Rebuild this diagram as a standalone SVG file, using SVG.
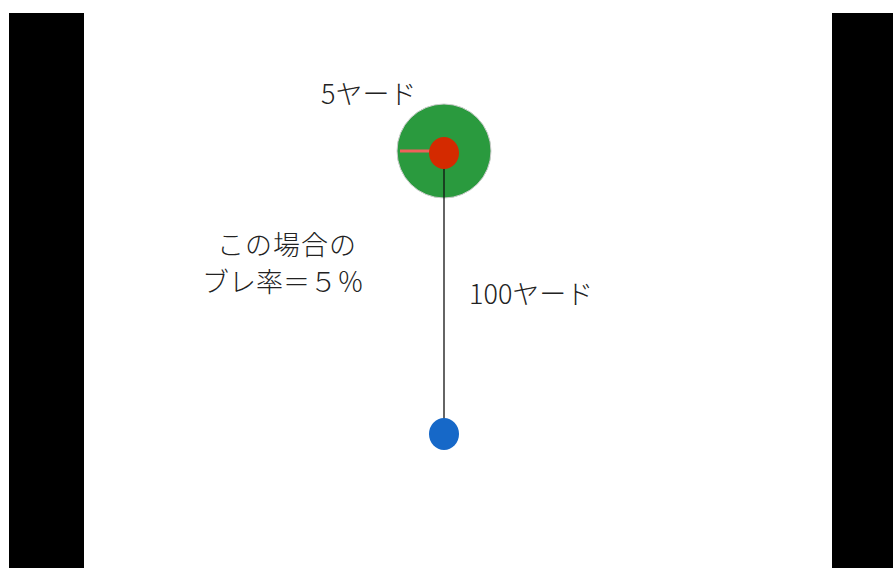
<svg xmlns="http://www.w3.org/2000/svg" width="893" height="568" viewBox="0 0 893 568">
<style>
.t{font-family:"Noto Sans CJK JP","Noto Sans",sans-serif;font-size:27px;fill:#222;font-weight:300;}
</style>
<rect width="893" height="568" fill="#fff"/>
<rect x="9" y="13" width="75" height="555" fill="#000"/>
<rect x="832" y="13" width="61" height="555" fill="#000"/>
<g id="green">
<circle cx="444" cy="151" r="47" fill="#2a9a3e" stroke="#ccc" stroke-width="1"/>
</g>
<g id="connectors">
<line x1="444" y1="160" x2="444" y2="425" stroke="#111" stroke-width="1.3"/>
<line x1="400" y1="151" x2="432" y2="151" stroke="#f0605a" stroke-width="3"/>
</g>
<g id="target">
<ellipse cx="444" cy="153" rx="15" ry="16" fill="#d42a00"/>
</g>
<g id="ball">
<ellipse cx="444" cy="434" rx="15" ry="16" fill="#1668c8"/>
</g>
<text class="t" x="321" y="104">5ヤード</text>
<text class="t" x="287" y="255" text-anchor="middle" letter-spacing="1">この場合の</text>
<text class="t" x="283" y="292" text-anchor="middle">ブレ率＝５％</text>
<text class="t" x="469" y="304">100ヤード</text>
</svg>
